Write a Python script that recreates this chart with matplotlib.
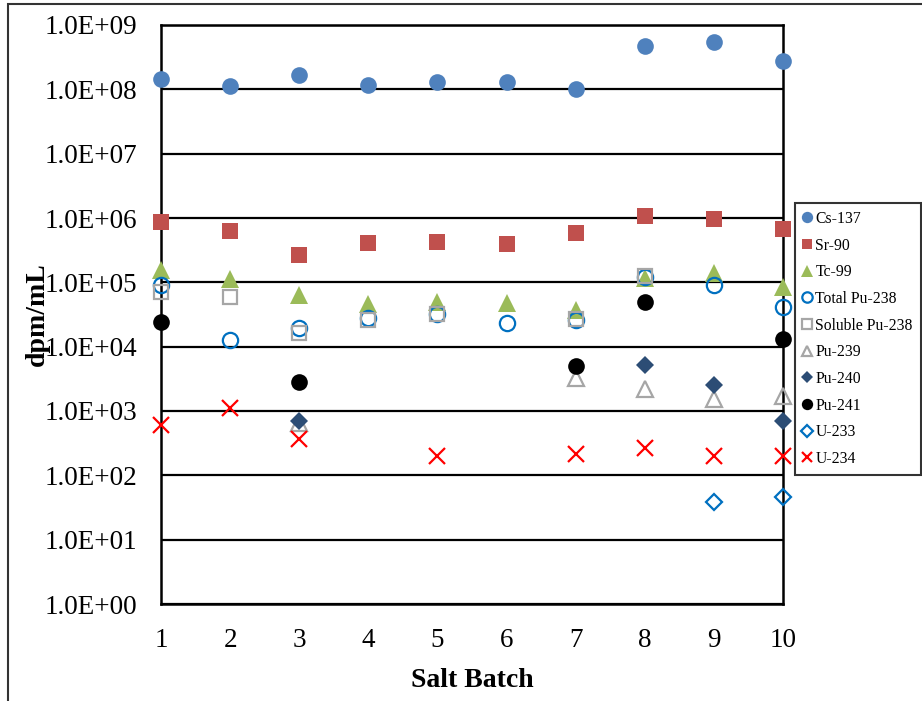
import numpy as np
import matplotlib
matplotlib.use("Agg")
import matplotlib.pyplot as plt
from matplotlib.patches import Rectangle

plt.rcParams['font.family'] = ['Liberation Serif', 'DejaVu Serif']

nan = np.nan
batches = [1, 2, 3, 4, 5, 6, 7, 8, 9, 10]

cs137 = [1.43e8, 1.13e8, 1.65e8, 1.16e8, 1.30e8, 1.30e8, 1.0e8, 4.72e8, 5.38e8, 2.73e8]
sr90 = [8.57e5, 6.21e5, 2.66e5, 4.13e5, 4.28e5, 3.90e5, 5.78e5, 1.09e6, 9.64e5, 6.74e5]
tc99 = [1.56e5, 1.13e5, 6.43e4, 4.65e4, 5.0e4, 4.77e4, 3.71e4, 1.15e5, 1.40e5, 8.55e4]
total_pu238 = [9.1e4, 1.27e4, 1.97e4, 2.76e4, 3.22e4, 2.36e4, 2.6e4, 1.20e5, 9.1e4, 4.09e4]
soluble_pu238 = [7.16e4, 5.85e4, 1.61e4, 2.6e4, 3.22e4, nan, 2.68e4, 1.25e5, nan, nan]
pu239 = [nan, nan, 6.4e2, nan, nan, nan, 3.22e3, 2.17e3, 1.52e3, 1.71e3]
pu240 = [nan, nan, 7.06e2, nan, nan, nan, nan, 5.19e3, 2.53e3, 6.98e2]
pu241 = [2.39e4, nan, 2.79e3, nan, nan, nan, 5.0e3, 5.0e4, nan, 1.30e4]
u233 = [nan, nan, nan, nan, nan, nan, nan, nan, 38.0, 46.5]
u234 = [6.06e2, 1.10e3, 3.62e2, nan, 2.0e2, nan, 2.12e2, 2.63e2, 2.0e2, 1.98e2]

ytick_values = [1e0, 1e1, 1e2, 1e3, 1e4, 1e5, 1e6, 1e7, 1e8, 1e9]
ytick_labels = ["1.0E+00", "1.0E+01", "1.0E+02", "1.0E+03", "1.0E+04",
                "1.0E+05", "1.0E+06", "1.0E+07", "1.0E+08", "1.0E+09"]

W, H = 922, 701
fig = plt.figure(figsize=(W / 100, H / 100), dpi=100)
ax = fig.add_axes([161 / W, 1 - 604 / H, (783 - 161) / W, (604 - 25) / H])

# outer chart-area border (cut at right and bottom)
fig.patches.append(Rectangle((8 / W, -0.1), 1.2, 1 - 4 / H + 0.1,
                             transform=fig.transFigure, fill=False,
                             edgecolor='#333333', linewidth=1.5))

series = [
    ("Cs-137", cs137, dict(marker='o', ms=12, mfc='#4F81BD', mec='#4F81BD', mew=0)),
    ("Sr-90", sr90, dict(marker='s', ms=11, mfc='#C0504D', mec='#C0504D', mew=0)),
    ("Tc-99", tc99, dict(marker='^', ms=13, mfc='#9BBB59', mec='#9BBB59', mew=0)),
    ("Total Pu-238", total_pu238, dict(marker='o', ms=11, mfc='none', mec='#0070C0', mew=1.6)),
    ("Soluble Pu-238", soluble_pu238, dict(marker='s', ms=10.5, mfc='none', mec='#A6A6A6', mew=1.6)),
    ("Pu-239", pu239, dict(marker='^', ms=11, mfc='none', mec='#A6A6A6', mew=1.6)),
    ("Pu-240", pu240, dict(marker='D', ms=9, mfc='#2C4D75', mec='#2C4D75', mew=0)),
    ("Pu-241", pu241, dict(marker='o', ms=12, mfc='black', mec='black', mew=0)),
    ("U-233", u233, dict(marker='D', ms=8.5, mfc='none', mec='#0070C0', mew=1.6)),
    ("U-234", u234, dict(marker='x', ms=11, mfc='#FF0000', mec='#FF0000', mew=1.6)),
]

handles = []
for i, (name, vals, style) in enumerate(series):
    h, = ax.plot(batches, vals, linestyle='none', label=name, clip_on=False,
                 zorder=3 + i, **style)
    handles.append(h)

ax.set_yscale('log')
ax.set_ylim(1e0, 1e9)
ax.set_xlim(1, 10)
ax.set_yticks(ytick_values)
ax.set_yticklabels(ytick_labels)
ax.yaxis.set_minor_locator(matplotlib.ticker.NullLocator())
ax.set_xticks(batches)
ax.set_xticklabels([str(b) for b in batches])
ax.tick_params(axis='both', length=0, labelsize=19.5, colors='black')
ax.tick_params(axis='y', pad=17)
ax.tick_params(axis='x', pad=17)

ax.grid(axis='y', color='black', linewidth=1.6)
ax.set_axisbelow(True)
for sp in ax.spines.values():
    sp.set_linewidth(1.8)
    sp.set_color('black')

ax.set_xlabel("Salt Batch", fontsize=20, fontweight='bold', labelpad=11)
fig.text(37 / W, 1 - 314 / H, "dpm/mL", fontsize=20, fontweight='bold',
         rotation=90, ha='center', va='center')

leg = fig.legend(handles=handles, loc='upper left',
                 bbox_to_anchor=(795 / W, 1 - 203 / H),
                 bbox_transform=fig.transFigure,
                 fontsize=11.3, markerscale=0.68, handlelength=0.5,
                 handletextpad=0.3, borderpad=0.5, labelspacing=0.68,
                 borderaxespad=0, fancybox=False, frameon=True)
leg.get_frame().set_edgecolor('black')
leg.get_frame().set_linewidth(1.5)

fig.savefig("out.png", dpi=100)
